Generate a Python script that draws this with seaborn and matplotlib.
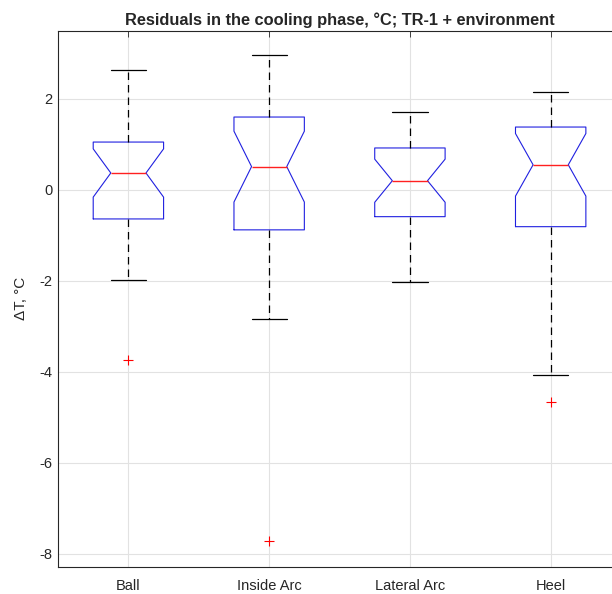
import matplotlib
matplotlib.use("Agg")
import matplotlib.pyplot as plt
import seaborn as sns
import pandas as pd

# residuals per sensor location, deg C
locations = ["Ball", "Inside Arc", "Lateral Arc", "Heel"]

ball = [-3.74, -1.98, -1.6, -1.3, -1.1, -0.85, -0.64, -0.5, -0.3, -0.1, 0.05, 0.2, 0.37,
        0.45, 0.55, 0.65, 0.8, 0.95, 1.05, 1.2, 1.4, 1.7, 2.0, 2.3, 2.64]
inside_arc = [-7.72, -2.84, -2.3, -1.9, -1.5, -1.2, -0.88, -0.6, -0.4, -0.2, 0.0, 0.3, 0.51,
              0.7, 0.85, 1.0, 1.2, 1.4, 1.6, 1.8, 2.0, 2.2, 2.5, 2.75, 2.97]
lateral_arc = [-2.02, -1.6, -1.3, -1.1, -0.9, -0.75, -0.59, -0.45, -0.3, -0.15, -0.05, 0.1, 0.2,
               0.3, 0.4, 0.5, 0.65, 0.8, 0.92, 1.05, 1.2, 1.3, 1.45, 1.6, 1.71]
heel = [-4.66, -4.07, -3.3, -2.6, -1.9, -1.3, -0.81, -0.6, -0.4, -0.2, 0.1, 0.35, 0.55,
        0.7, 0.85, 1.0, 1.1, 1.25, 1.38, 1.5, 1.65, 1.8, 1.9, 2.05, 2.15]

yticks = [-8, -6, -4, -2, 0, 2]

df = pd.DataFrame({
    "location": ["Ball"] * len(ball) + ["Inside Arc"] * len(inside_arc)
                + ["Lateral Arc"] * len(lateral_arc) + ["Heel"] * len(heel),
    "dT": ball + inside_arc + lateral_arc + heel,
})

sns.set_style("white")
plt.rcParams["font.family"] = ["Liberation Sans", "DejaVu Sans"]
plt.rcParams["axes.unicode_minus"] = False

fig = plt.figure(figsize=(6.12, 5.94), dpi=100)
ax = fig.add_axes([0.0948, 0.0455, 0.92, 0.903])

sns.boxplot(data=df, x="location", y="dT", order=locations, ax=ax,
            notch=True, fill=False, width=0.5, whis=1.5,
            boxprops=dict(color="#2020e0", linewidth=0.8),
            medianprops=dict(color="#ff2020", linewidth=1.0),
            whiskerprops=dict(color="black", linestyle=(0, (6, 4)), linewidth=0.9),
            capprops=dict(color="black", linewidth=0.9),
            flierprops=dict(marker="+", markeredgecolor="red", markersize=7,
                            markeredgewidth=0.8))

ax.set_axisbelow(True)
ax.grid(True, axis="both", color="#e2e2e2", linewidth=0.8)
ax.xaxis.grid(True)
ax.yaxis.grid(True)

ax.set_xlim(-0.5, 3.5)
ax.set_ylim(-8.29, 3.5)
ax.set_yticks(yticks)
ax.set_xlabel("")
ax.set_ylabel("ΔT, °C", fontsize=11, color="#262626", labelpad=8)
ax.set_title("Residuals in the cooling phase, °C; TR-1 + environment",
             fontsize=11.8, fontweight="bold", pad=4)

for s in ax.spines.values():
    s.set_color("#262626")
    s.set_linewidth(0.8)
ax.tick_params(direction="in", length=4, width=0.6, colors="#262626",
               labelsize=10.5, top=True, right=True)
ax.tick_params(axis="x", pad=9)
ax.tick_params(axis="y", pad=4)

fig.savefig("out.png", dpi=100)
